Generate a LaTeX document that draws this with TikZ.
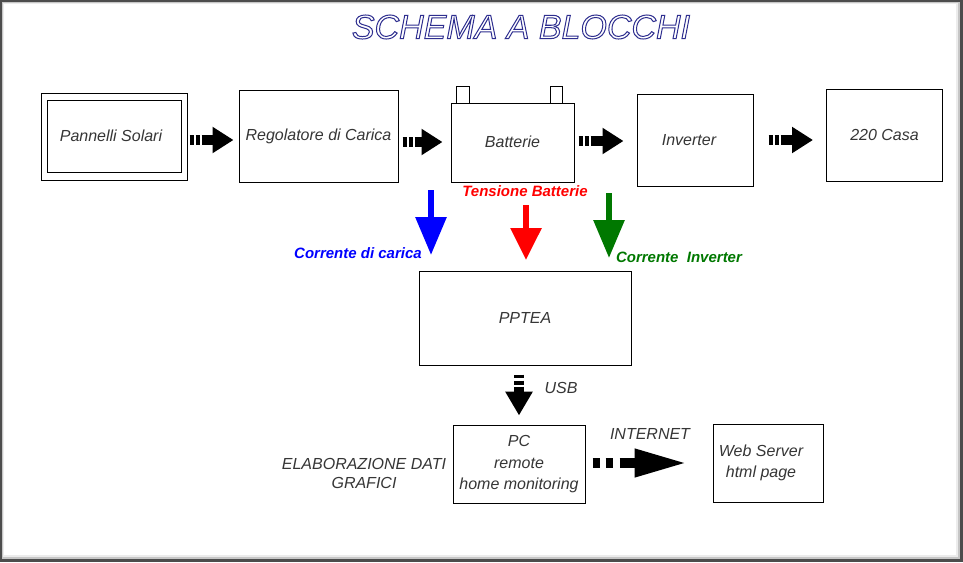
\documentclass[tikz,border=0pt]{standalone}
\usepackage{fontspec}
\setmainfont{Liberation Sans}
\usetikzlibrary{arrows.meta,calc}
\definecolor{txt}{HTML}{363636}
\definecolor{titleblue}{HTML}{2E2E8F}
\definecolor{cblue}{HTML}{0000FF}
\definecolor{cred}{HTML}{FF0000}
\definecolor{cgreen}{HTML}{007800}
\newcommand{\outlinetext}[1]{\special{pdf:literal direct 1 Tr 1 w}#1\special{pdf:literal direct 0 Tr}}
\tikzset{
  box/.style={draw=black,line width=1pt,fill=white,text=txt,
    font=\fontsize{16}{21}\selectfont\itshape,align=center,inner sep=0pt},
  lbl/.style={text=txt,font=\fontsize{16}{19}\selectfont\itshape,align=center,inner sep=0pt},
  clbl/.style={font=\fontsize{15}{18}\selectfont\bfseries\itshape,inner sep=0pt},
  fatarrow/.style={line width=10pt,-{Triangle[width=25pt,length=21pt]},
    dash pattern=on 4pt off 2pt on 4pt off 2pt on 300pt},
  netarrow/.style={line width=10pt,-{Triangle[width=26pt,length=53pt]},
    dash pattern=on 7pt off 6pt on 7pt off 7pt on 300pt},
  usbarrow/.style={line width=10pt,-{Triangle[width=26pt,length=24pt]},
    dash pattern=on 3pt off 3pt on 4pt off 2pt on 300pt},
  colarrow/.style={line width=6pt,-{Triangle[width=30pt,length=#1]}}
}
\begin{document}
\begin{tikzpicture}[x=1pt,y=-1pt]
% frame
\fill[black!70] (0,0) rectangle (963,562);
\fill[gray!45] (2,2) rectangle (960,559);
\fill[gray!15] (3,3) rectangle (958,557);
\fill[white] (4,4) rectangle (956,555);
\useasboundingbox (0,0) rectangle (963,562);

% title
\node[text=titleblue,font=\fontsize{34}{40}\selectfont\itshape,inner sep=0pt] (title) at (521,27) {\outlinetext{SCHEMA A BLOCCHI}};

% top row
\node[box,minimum width=146pt,minimum height=87pt] (panout) at (114,136.5) {};
\node[box,minimum width=134pt,minimum height=72pt] (pan) at (114,136) {\hspace*{-6pt}Pannelli Solari};
\node[box,minimum width=159pt,minimum height=92pt] (reg) at (318.5,136) {Regolatore di Carica};
\node[draw=black,line width=1pt,fill=white,minimum width=13pt,minimum height=17pt,inner sep=0pt] (tplus) at (462.5,95) {};
\node[draw=black,line width=1pt,fill=white,minimum width=12pt,minimum height=17pt,inner sep=0pt] (tminus) at (556.5,95) {};
\node[box,minimum width=123pt,minimum height=79pt] (bat) at (512.5,142.5) {\raisebox{2pt}{Batterie}};
\node[box,minimum width=116pt,minimum height=92pt] (inv) at (695,140) {\hspace*{-12pt}Inverter};
\node[box,minimum width=116pt,minimum height=92pt] (casa) at (884.5,135) {220 Casa};

% middle
\node[box,minimum width=212pt,minimum height=94pt] (pptea) at (525,318) {PPTEA};

% bottom
\node[box,minimum width=132pt,minimum height=78pt] (pc) at (519,464) {\raisebox{-3pt}{\begin{tabular}{@{}c@{}}PC\\[1pt]remote\\home monitoring\end{tabular}}};
\node[box,minimum width=110pt,minimum height=78pt] (web) at (768,463) {\hspace*{-14pt}\begin{tabular}{c}Web Server\\html page\end{tabular}};

% block arrows between boxes
\draw[fatarrow] ($(panout.east)+(2,3.5)$) -- ($(reg.west)+(-5,4)$);
\draw[fatarrow] ($(reg.east)+(4,6)$) -- ($(bat.west)+(-8,-0.5)$);
\draw[fatarrow] ($(bat.east)+(4,-1.5)$) -- ($(inv.west)+(-13,1)$);
\draw[fatarrow] ($(inv.east)+(15,0)$) -- ($(casa.west)+(-13,5)$);
\draw[usbarrow] ($(pptea.south)+(-6,9)$) -- ($(pc.north)+(0,-9)$);
\draw[netarrow] ($(pc.east)+(7,-1)$) -- ($(web.west)+(-25,0)$);

% coloured measurement arrows
\coordinate (bs) at (431,190);
\coordinate (be) at (431,255);
\coordinate (rs) at (526,205);
\coordinate (re) at (526,260);
\coordinate (gs) at (609,193);
\coordinate (ge) at (609,258);
\draw[colarrow=38pt,draw=cblue,fill=cblue] (bs) -- (be);
\draw[colarrow=32pt,draw=cred,fill=cred] (rs) -- (re);
\draw[colarrow=38pt,draw=cgreen,fill=cgreen] (gs) -- (ge);

% labels
\node[clbl,text=cred] (ltens) at (525,191) {Tensione Batterie};
\node[clbl,text=cblue] (lcar) at (358,253) {Corrente di carica};
\node[clbl,text=cgreen] (linv) at (679,257) {Corrente\ \ Inverter};
\node[lbl] (lusb) at (561,388) {USB};
\node[lbl] (lnet) at (650,434) {INTERNET};
\node[lbl] (lelab) at (364,473) {ELABORAZIONE DATI\\GRAFICI};
\end{tikzpicture}
\end{document}
